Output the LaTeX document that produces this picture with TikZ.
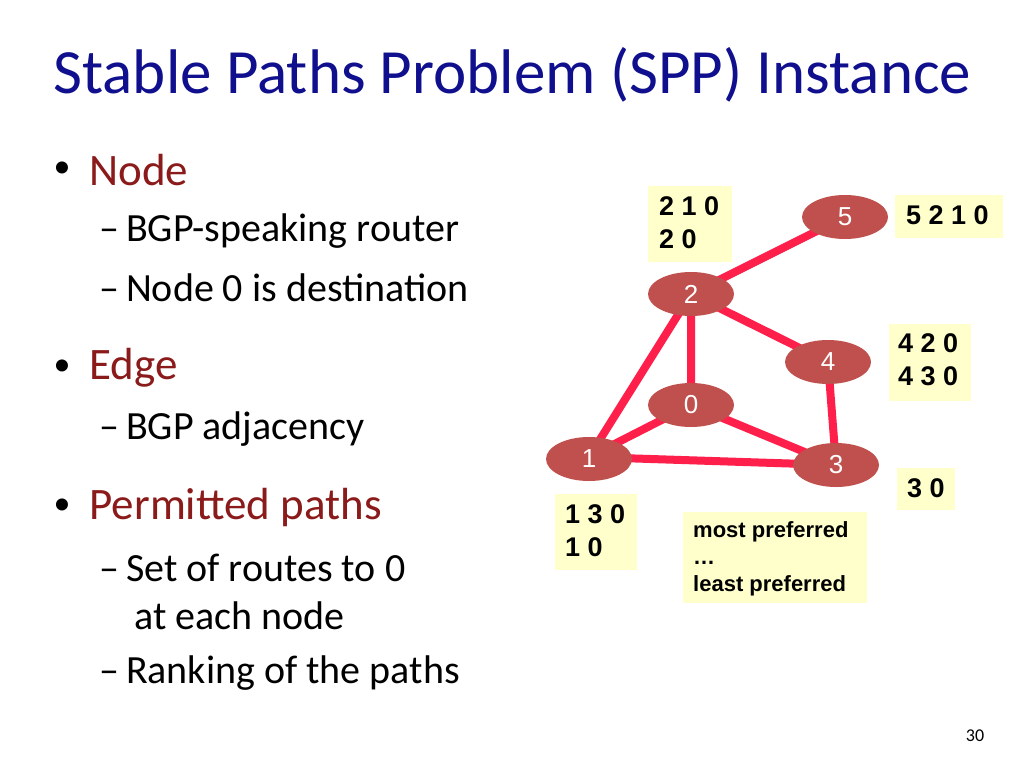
\documentclass[tikz,border=0pt]{standalone}
\usepackage{fontspec}
\setmainfont{Carlito}
\newfontfamily\arialf{Liberation Sans}
\usetikzlibrary{shapes.geometric}
\definecolor{ttl}{HTML}{10108F}
\definecolor{head}{HTML}{8B1A1A}
\definecolor{nodec}{HTML}{C0504D}
\definecolor{edgec}{HTML}{FF1F4B}
\definecolor{boxc}{HTML}{FFFFCC}
\tikzset{
 rnode/.style={ellipse,fill=nodec,minimum width=86pt,minimum height=44pt,text=white,font=\arialf\fontsize{26}{28}\selectfont},
 edge/.style={edgec,line width=8pt},
 pbox/.style={fill=boxc,align=left,anchor=north west,inner sep=0pt,font=\arialf\bfseries\fontsize{27}{33}\selectfont},
 btxt/.style={anchor=north west,align=left,inner sep=0pt,font=\arialf\bfseries\fontsize{27}{33}\selectfont},
 lvl1/.style={anchor=west,font=\fontsize{45}{46}\selectfont,text=head},
 lvl2/.style={anchor=west,font=\fontsize{40}{42}\selectfont,align=left}
}
\begin{document}
\begin{tikzpicture}[x=1pt,y=-1pt]
\useasboundingbox (0,0) rectangle (1024,768);
\fill[white] (0,0) rectangle (1024,768);
\node[anchor=west,text=ttl,font=\fontsize{63}{64}\selectfont] (title) at (50,75) {Stable Paths Problem (SPP) Instance};
\node[anchor=west,font=\fontsize{34}{34}\selectfont] (b1) at (50,170) {•};
\node[lvl1] (t1) at (86,170) {Node};
\node[lvl2] (t1a) at (96,231) {–\,BGP-speaking router};
\node[lvl2] (t1b) at (96,288) {–\,Node 0 is destination};
\node[anchor=west,font=\fontsize{34}{34}\selectfont] (b2) at (50,368) {•};
\node[lvl1] (t2) at (86,368) {Edge};
\node[lvl2] (t2a) at (96,429) {–\,BGP adjacency};
\node[anchor=west,font=\fontsize{34}{34}\selectfont] (b3) at (50,507) {•};
\node[lvl1] (t3) at (86,507) {Permitted paths};
\node[lvl2] (t3a) at (96,568) {–\,Set of routes to 0};
\node[lvl2] (t3b) at (131,616) {at each node};
\node[lvl2] (t3c) at (96,673) {–\,Ranking of the paths};
\node[font=\fontsize{18}{18}\selectfont] (pg) at (975,736) {30};

\coordinate (p5) at (845,217);
\coordinate (p2) at (691,294);
\coordinate (p4) at (828,362);
\coordinate (p0) at (691,405);
\coordinate (p1) at (589,457);
\coordinate (p3) at (836,465);
\draw[edge] (p5)--(p2) (p2)--(p0) (p2)--(p4) (p2)--(p1) (p4)--(p3) (p0)--(p3) (p0)--(p1) (p1)--(p3);
\node[rnode] (n5) at (p5) {5};
\node[rnode] (n2) at (p2) {2};
\node[rnode] (n4) at (p4) {4};
\node[rnode] (n0) at (p0) {0};
\node[rnode] (n1) at ([yshift=-2pt]p1) {1};
\node[rnode] (n3) at (p3) {3};

\fill[boxc] (648,186) rectangle (732,262);
\node[btxt] (bx2) at (659,196) {2 1 0\\2 0};
\fill[boxc] (895,195) rectangle (1003,238);
\node[btxt] (bx5) at (906,205) {5 2 1 0};
\fill[boxc] (889,324) rectangle (971,401);
\node[btxt] (bx4) at (898,333) {4 2 0\\4 3 0};
\fill[boxc] (897,468) rectangle (955,510);
\node[btxt] (bx3) at (907,478) {3 0};
\fill[boxc] (555,494) rectangle (637,570);
\node[btxt] (bx1) at (565,504) {1 3 0\\1 0};
\fill[boxc] (683,512) rectangle (867,603);
\node[btxt,font=\arialf\bfseries\fontsize{22}{27}\selectfont] (bxl) at (693,521) {most preferred\\…\\least preferred};
\end{tikzpicture}
\end{document}
